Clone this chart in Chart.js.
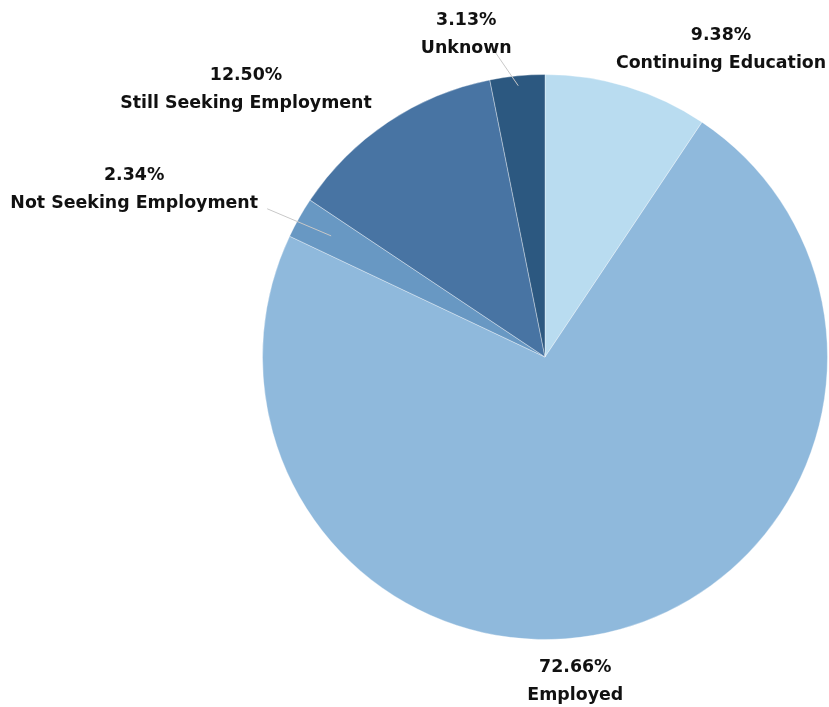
<!DOCTYPE html>
<html>
<head>
<meta charset="utf-8">
<script src="https://cdn.jsdelivr.net/npm/chart.js@4"></script>
<style>
  html, body { margin: 0; padding: 0; background: #fff; }
  #wrap { width: 829px; height: 707px; position: relative; }
</style>
</head>
<body>
<div id="wrap"><canvas id="myPieChart"></canvas></div>
<script>
const categories = [
  "Continuing Education",
  "Employed",
  "Not Seeking Employment",
  "Still Seeking Employment",
  "Unknown",
];
const percents = [9.38, 72.66, 2.34, 12.5, 3.13];
const sliceColors = ["#b9dcf0", "#8fb9dc", "#6898c3", "#4874a3", "#2c5880"];

// label placement relative to the slice's outer mid point (dx, dy), and optional leader line
const labelOffsets = [
  { dx: 94, dy: -37 },
  { dx: -45, dy: 52 },
  { dx: -165, dy: -28, leader: { inner: 0.87, to: [-32, -9] } },
  { dx: -142, dy: -33 },
  { dx: -51, dy: -41, leader: { inner: 0.965, to: [-25, -28] } },
];

const labelPlugin = {
  id: "sliceLabels",
  afterDatasetsDraw(chart) {
    const ctx = chart.ctx;
    const meta = chart.getDatasetMeta(0);
    meta.data.forEach((arc, i) => {
      const p = arc.getProps(["x", "y", "startAngle", "endAngle", "outerRadius"], true);
      const mid = (p.startAngle + p.endAngle) / 2;
      const ex = p.x + Math.cos(mid) * p.outerRadius;
      const ey = p.y + Math.sin(mid) * p.outerRadius;
      const off = labelOffsets[i];
      if (off.leader) {
        const ix = p.x + Math.cos(mid) * p.outerRadius * off.leader.inner;
        const iy = p.y + Math.sin(mid) * p.outerRadius * off.leader.inner;
        ctx.save();
        ctx.strokeStyle = "#c8c8c8";
        ctx.lineWidth = 1;
        ctx.beginPath();
        ctx.moveTo(ix, iy);
        ctx.lineTo(ex + off.leader.to[0], ey + off.leader.to[1]);
        ctx.stroke();
        ctx.restore();
      }
      const cx = ex + off.dx;
      const cy = ey + off.dy;
      ctx.save();
      ctx.fillStyle = "#111";
      ctx.textAlign = "center";
      ctx.textBaseline = "middle";
      ctx.font = "bold 17.4px 'DejaVu Sans'";
      ctx.fillText(percents[i].toFixed(2) + "%", cx, cy - 14);
      ctx.fillText(categories[i], cx, cy + 14);
      ctx.restore();
    });
  },
};

new Chart(document.getElementById("myPieChart"), {
  type: "pie",
  data: {
    labels: categories,
    datasets: [
      {
        data: percents,
        backgroundColor: sliceColors,
        borderColor: "rgba(255,255,255,0.35)",
        borderWidth: 1,
      },
    ],
  },
  options: {
    responsive: true,
    maintainAspectRatio: false,
    animation: false,
    layout: {
      padding: { top: 74, bottom: 67, left: 262, right: 1 },
    },
    plugins: {
      legend: { display: false },
      tooltip: { enabled: false },
    },
  },
  plugins: [labelPlugin],
});
</script>
</body>
</html>
